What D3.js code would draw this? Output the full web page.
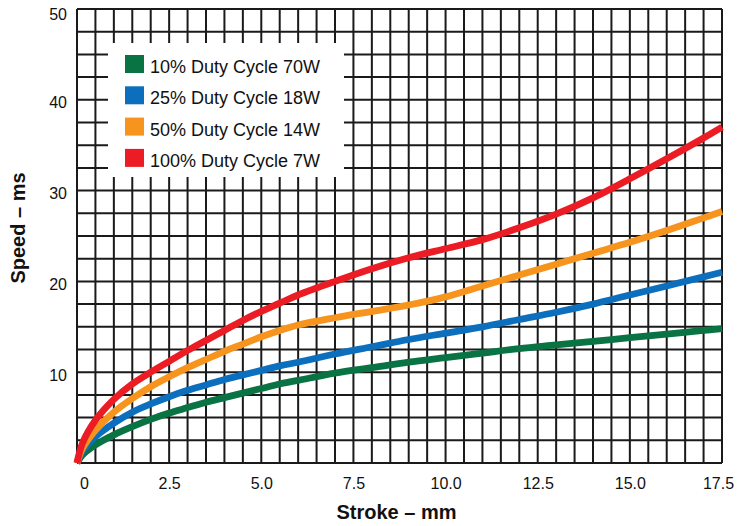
<!DOCTYPE html>
<html>
<head>
<meta charset="utf-8">
<script src="https://cdn.jsdelivr.net/npm/d3@7"></script>
<style>
  body { margin: 0; background: #fff; }
  svg { display: block; font-family: "Liberation Sans", Arial, sans-serif; }
</style>
</head>
<body>
<div id="chart"></div>
<script>
// Data (stroke in mm, speed in ms)
const stroke = [0, 0.15, 0.5, 1, 1.5, 2, 2.5, 3, 3.5, 4, 4.5, 5, 5.5, 6, 7, 8, 9, 10, 11, 12, 13, 14, 15, 16, 17, 17.5];
const duty10 = [0, 0.9, 2.0, 3.1, 4.0, 4.8, 5.5, 6.1, 6.7, 7.2, 7.7, 8.2, 8.7, 9.1, 9.9, 10.5, 11.1, 11.6, 12.1, 12.6, 13.0, 13.4, 13.8, 14.2, 14.6, 14.8];
const duty25 = [0, 1.3, 2.9, 4.4, 5.6, 6.5, 7.3, 8.0, 8.6, 9.2, 9.7, 10.2, 10.7, 11.1, 12.0, 12.8, 13.6, 14.3, 15.0, 15.8, 16.6, 17.5, 18.5, 19.5, 20.5, 21.0];
const duty50 = [0, 1.6, 3.6, 5.6, 7.1, 8.4, 9.5, 10.5, 11.4, 12.3, 13.1, 13.9, 14.6, 15.2, 16.0, 16.7, 17.4, 18.3, 19.5, 20.7, 21.9, 23.1, 24.3, 25.6, 27.0, 27.7];
const duty100 = [0, 2.2, 4.7, 7.0, 8.7, 10.0, 11.2, 12.4, 13.5, 14.6, 15.7, 16.7, 17.6, 18.5, 20.0, 21.4, 22.6, 23.6, 24.6, 25.9, 27.4, 29.2, 31.3, 33.5, 35.8, 37.0];

const seriesNames = ["10% Duty Cycle 70W", "25% Duty Cycle 18W", "50% Duty Cycle 14W", "100% Duty Cycle 7W"];
const seriesColors = ["#0a7343", "#0b6fbd", "#f7941d", "#ec1c24"];
const seriesValues = [duty10, duty25, duty50, duty100];

const xTicks = [0, 2.5, 5, 7.5, 10, 12.5, 15, 17.5];
const yTicks = [10, 20, 30, 40, 50];

// Dimensions
const margin = { top: 9, right: 18, bottom: 63, left: 77 };
const width = 740 - margin.left - margin.right;
const height = 526 - margin.top - margin.bottom;

const svgContainer = d3.select("#chart")
    .append("svg")
    .attr("width", 740)
    .attr("height", 526);

const svg = svgContainer.append("g")
    .attr("transform", `translate(${margin.left},${margin.top})`);

// Scales
const x = d3.scaleLinear().domain([0, 17.5]).range([0, width]);
const y = d3.scaleLinear().domain([0, 50]).range([height, 0]);

// Grid: every 0.5 mm and every 2.5 ms
const grid = svg.append("g")
    .attr("stroke", "#1a1a1a")
    .attr("stroke-width", 2);

grid.selectAll(".vline")
    .data(d3.range(0, 35.5).map(i => i * 0.5))
    .enter()
    .append("line")
    .attr("x1", d => x(d))
    .attr("x2", d => x(d))
    .attr("y1", 0)
    .attr("y2", height);

grid.selectAll(".hline")
    .data(d3.range(0, 20.5).map(i => i * 2.5))
    .enter()
    .append("line")
    .attr("x1", 0)
    .attr("x2", width)
    .attr("y1", d => y(d))
    .attr("y2", d => y(d));

// Axes (labels only, grid draws the lines)
const xAxis = svg.append("g")
    .attr("transform", `translate(0,${height})`)
    .call(d3.axisBottom(x).tickValues(xTicks).tickSize(0).tickPadding(0)
        .tickFormat(d => d === 0 ? "0" : d3.format(".1f")(d)));
xAxis.select(".domain").remove();
xAxis.selectAll("text")
    .attr("y", 26)
    .attr("dy", 0)
    .attr("dx", d => d === 0 ? 7 : d === 17.5 ? -4 : 0)
    .style("font-size", "16px")
    .style("font-family", "Liberation Sans, Arial, sans-serif")
    .attr("fill", "#111");

const yAxis = svg.append("g")
    .call(d3.axisLeft(y).tickValues(yTicks).tickSize(0).tickPadding(10));
yAxis.select(".domain").remove();
yAxis.selectAll("text")
    .attr("dy", d => d === 50 ? "0.65em" : "0.5em")
    .style("font-size", "16px")
    .style("font-family", "Liberation Sans, Arial, sans-serif")
    .attr("fill", "#111");

// Curves
const line = d3.line()
    .x((d, i) => x(stroke[i]))
    .y(d => y(d))
    .curve(d3.curveCatmullRom.alpha(0.5));

svg.selectAll(".curve")
    .data(seriesValues)
    .enter()
    .append("path")
    .attr("class", "curve")
    .attr("d", d => line(d))
    .attr("fill", "none")
    .attr("stroke", (d, i) => seriesColors[i])
    .attr("stroke-width", 6.8);

// Legend
const legend = svgContainer.append("g");
legend.append("rect")
    .attr("x", 108)
    .attr("y", 43)
    .attr("width", 236)
    .attr("height", 134)
    .attr("fill", "#fff");

const item = legend.selectAll(".item")
    .data(seriesNames)
    .enter()
    .append("g")
    .attr("transform", (d, i) => `translate(125,${55 + i * 31.3})`);

item.append("rect")
    .attr("width", 19)
    .attr("height", 18)
    .attr("fill", (d, i) => seriesColors[i]);

item.append("text")
    .attr("x", 25)
    .attr("y", 18)
    .style("font-size", "18px")
    .attr("fill", "#111")
    .text(d => d);

// Axis titles
svgContainer.append("text")
    .attr("x", margin.left + width / 2 - 3)
    .attr("y", 519)
    .attr("text-anchor", "middle")
    .style("font-size", "20px")
    .style("font-weight", "bold")
    .attr("fill", "#111")
    .text("Stroke – mm");

svgContainer.append("text")
    .attr("transform", "translate(25,228) rotate(-90)")
    .attr("text-anchor", "middle")
    .style("font-size", "20px")
    .style("font-weight", "bold")
    .attr("fill", "#111")
    .text("Speed – ms");
</script>
</body>
</html>
